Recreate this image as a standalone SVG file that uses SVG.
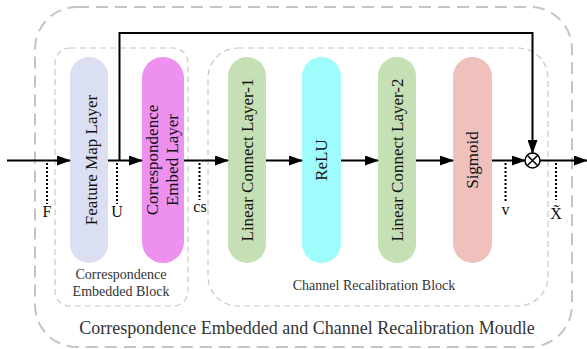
<svg xmlns="http://www.w3.org/2000/svg" width="587" height="349" viewBox="0 0 587 349">
<style>
.pill{stroke:none}
.lbl{font-family:"Liberation Serif","Times New Roman",serif;font-size:17px;fill:#111;text-anchor:middle}
.small{font-family:"Liberation Serif","Times New Roman",serif;font-size:14px;fill:#333;text-anchor:middle}
.big{font-family:"Liberation Serif","Times New Roman",serif;font-size:18px;fill:#333;text-anchor:middle}
.var{font-family:"Liberation Serif","Times New Roman",serif;font-size:16px;fill:#111;text-anchor:middle}
.flow{stroke:#000;stroke-width:2;fill:none;marker-end:url(#ah)}
.dot{stroke:#000;stroke-width:2;stroke-dasharray:2,2;fill:none}
</style>
<defs>
<marker id="ah" markerUnits="userSpaceOnUse" markerWidth="14" markerHeight="10" refX="13" refY="5" orient="auto">
<path d="M0,0 L14,5 L0,10 Z" fill="#000"/>
</marker>
</defs>
<g id="outer-module">
<rect x="35" y="7" width="537" height="340" rx="42" ry="42" fill="none" stroke="#c4c4c4" stroke-width="2" stroke-dasharray="12,7"/>
<text class="big" x="307" y="334">Correspondence Embedded and Channel Recalibration Moudle</text>
</g>
<g id="embedded-block">
<rect x="55" y="48" width="133" height="258" rx="15" ry="15" fill="none" stroke="#c8c8c8" stroke-width="1.2" stroke-dasharray="6,4"/>
<text class="small" x="121" y="279">Correspondence</text>
<text class="small" x="121" y="296">Embedded Block</text>
</g>
<g id="recalibration-block">
<rect x="208" y="48" width="340" height="258" rx="30" ry="30" fill="none" stroke="#c8c8c8" stroke-width="1.2" stroke-dasharray="6,4"/>
<text class="small" x="374" y="290">Channel Recalibration Block</text>
</g>
<g id="feature-map-layer">
<rect class="pill" x="70" y="57" width="38" height="206" rx="19" fill="#dae0f1"/>
<text class="lbl" transform="translate(97,160) rotate(-90)">Feature Map Layer</text>
</g>
<g id="correspondence-embed-layer">
<rect class="pill" x="142" y="57" width="42" height="206" rx="21" fill="#ee90ee"/>
<text class="lbl" transform="translate(158,160) rotate(-90)">Correspondence</text>
<text class="lbl" transform="translate(178,160) rotate(-90)">Embed Layer</text>
</g>
<g id="linear-connect-layer-1">
<rect class="pill" x="228" y="57" width="38" height="206" rx="19" fill="#c5e0b4"/>
<text class="lbl" transform="translate(253,160) rotate(-90)">Linear Connect Layer-1</text>
</g>
<g id="relu">
<rect class="pill" x="302" y="57" width="39" height="206" rx="19.5" fill="#9ffcfc"/>
<text class="lbl" transform="translate(327,160) rotate(-90)">ReLU</text>
</g>
<g id="linear-connect-layer-2">
<rect class="pill" x="378" y="57" width="38" height="206" rx="19" fill="#c5e0b4"/>
<text class="lbl" transform="translate(403,160) rotate(-90)">Linear Connect Layer-2</text>
</g>
<g id="sigmoid">
<rect class="pill" x="453" y="57" width="39" height="206" rx="19.5" fill="#f0c1bc"/>
<text class="lbl" transform="translate(478,160) rotate(-90)">Sigmoid</text>
</g>
<g id="multiply">
<circle cx="532.5" cy="160.5" r="7.5" fill="#fff" stroke="#000" stroke-width="1.5"/>
<path d="M527.2,155.2 L537.8,165.8 M537.8,155.2 L527.2,165.8" stroke="#000" stroke-width="1.5"/>
</g>
<g id="connectors">
<line class="flow" x1="7" y1="160.5" x2="70" y2="160.5"/>
<line class="flow" x1="108" y1="160.5" x2="142" y2="160.5"/>
<line class="flow" x1="184" y1="160.5" x2="228" y2="160.5"/>
<line class="flow" x1="266" y1="160.5" x2="302" y2="160.5"/>
<line class="flow" x1="341" y1="160.5" x2="378" y2="160.5"/>
<line class="flow" x1="416" y1="160.5" x2="453" y2="160.5"/>
<line class="flow" x1="492" y1="160.5" x2="525" y2="160.5"/>
<line class="flow" x1="540" y1="160.5" x2="587" y2="160.5"/>
<polyline class="flow" points="119.5,160.5 119.5,33 532.5,33 532.5,153"/>
<line class="dot" x1="47" y1="163" x2="47" y2="204"/>
<line class="dot" x1="117" y1="163" x2="117" y2="204"/>
<line class="dot" x1="199.5" y1="163" x2="199.5" y2="200"/>
<line class="dot" x1="505.5" y1="163" x2="505.5" y2="202"/>
<line class="dot" x1="556" y1="163" x2="556" y2="200"/>
</g>
<g id="labels">
<text class="var" x="47" y="217">F</text>
<text class="var" x="117" y="217">U</text>
<text class="var" x="200" y="212">cs</text>
<text class="var" x="505.5" y="215">v</text>
<text class="var" x="556" y="219">X̃</text>
</g>
</svg>
